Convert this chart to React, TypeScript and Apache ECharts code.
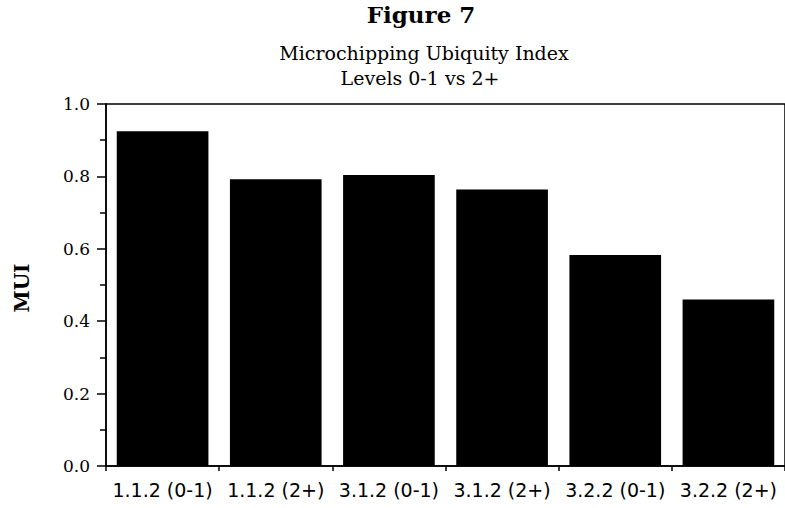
import React, { useEffect, useRef } from "react";
import * as echarts from "echarts";

const categories = ["1.1.2 (0-1)", "1.1.2 (2+)", "3.1.2 (0-1)", "3.1.2 (2+)", "3.2.2 (0-1)", "3.2.2 (2+)"];
const muiValues = [0.925, 0.792, 0.804, 0.764, 0.583, 0.46];
const yTicks = { min: 0, max: 1, interval: 0.2 };
const titleText = "Figure 7";
const subtitleLines = ["Microchipping Ubiquity Index", "Levels 0-1 vs 2+"];
const yAxisTitle = "MUI";

export default function App() {
  const ref = useRef<HTMLDivElement>(null);
  useEffect(() => {
    if (!ref.current) return;
    const chart = echarts.init(ref.current, null, { renderer: "svg" });
    chart.setOption({
      animation: false,
      backgroundColor: "#ffffff",
      grid: {
        left: 106,
        top: 104,
        width: 684,
        bottom: 42,
        show: true,
        borderColor: "#000",
        borderWidth: 1.5,
        backgroundColor: "transparent",
        containLabel: false,
      },
      graphic: [
        {
          type: "text",
          x: 421,
          y: 14,
          style: {
            text: titleText,
            font: "bold 23px 'DejaVu Serif'",
            fill: "#000",
            align: "center",
            verticalAlign: "middle",
          },
        },
        {
          type: "text",
          x: 424,
          y: 53,
          style: {
            text: subtitleLines[0],
            font: "19px 'DejaVu Serif'",
            fill: "#000",
            align: "center",
            verticalAlign: "middle",
          },
        },
        {
          type: "text",
          x: 420,
          y: 78,
          style: {
            text: subtitleLines[1],
            font: "19px 'DejaVu Serif'",
            fill: "#000",
            align: "center",
            verticalAlign: "middle",
          },
        },
        {
          type: "text",
          x: 22,
          y: 288,
          rotation: Math.PI / 2,
          style: {
            text: yAxisTitle,
            font: "bold 20px 'DejaVu Serif'",
            fill: "#000",
            align: "center",
            verticalAlign: "middle",
          },
        },
      ],
      xAxis: {
        type: "category",
        data: categories,
        boundaryGap: true,
        axisLine: { show: true, lineStyle: { color: "#000", width: 1.5 } },
        axisTick: { show: true, length: 5, lineStyle: { color: "#000", width: 1.5 } },
        axisLabel: {
          color: "#000",
          fontFamily: "DejaVu Sans",
          fontSize: 19,
          margin: 14,
          interval: 0,
        },
        splitLine: { show: false },
      },
      yAxis: {
        type: "value",
        min: yTicks.min,
        max: yTicks.max,
        interval: yTicks.interval,
        axisLine: { show: true, lineStyle: { color: "#000", width: 1.5 } },
        axisTick: { show: true, length: 9, lineStyle: { color: "#000", width: 1.5 } },
        minorTick: { show: true, splitNumber: 2, length: 6, lineStyle: { color: "#000", width: 1.5 } },
        axisLabel: {
          color: "#000",
          fontFamily: "DejaVu Serif",
          fontSize: 17,
          margin: 16,
          formatter: (v: number) => v.toFixed(1),
        },
        splitLine: { show: false },
      },
      series: [
        {
          type: "bar",
          data: muiValues,
          barWidth: "81%",
          itemStyle: { color: "#000" },
        },
      ],
    });
    return () => chart.dispose();
  }, []);
  return (
    <div
      ref={ref}
      style={{ position: "absolute", left: 0, top: 0, width: 785, height: 508 }}
    />
  );
}
